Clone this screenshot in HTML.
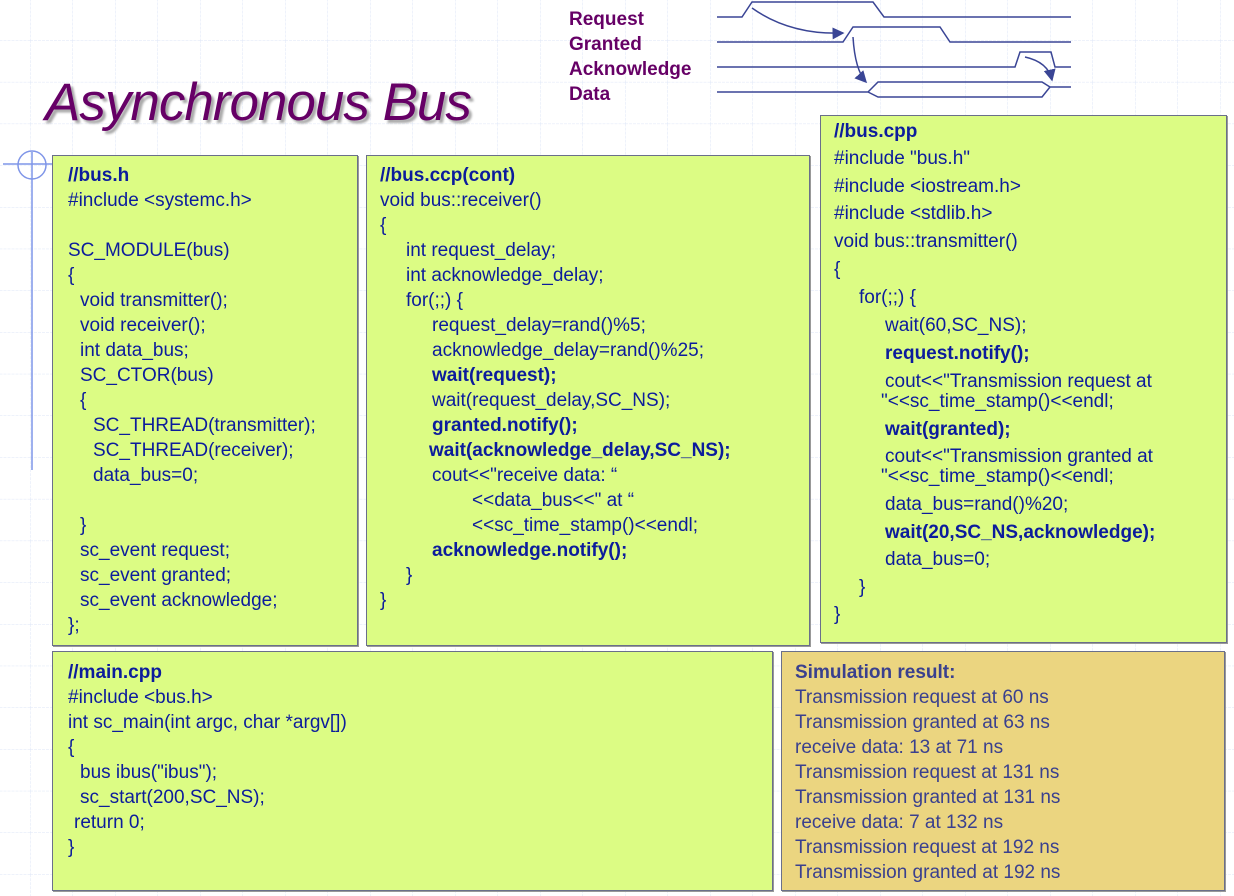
<!DOCTYPE html>
<html><head><meta charset="utf-8"><style>
body{margin:0;width:1234px;height:896px;position:relative;overflow:hidden;background:#fff;font-family:"Liberation Sans",Tahoma,sans-serif;}
.box{position:absolute;background:#dcfc84;border:1px solid #6a6f8a;box-shadow:1px 1px 0 #999;}
.l{position:absolute;font-size:19px;line-height:25px;color:#0c1c9c;white-space:pre;}
.b{font-weight:bold;}
.s{color:#3a408e;}
.lab{position:absolute;font-size:19px;line-height:25px;font-weight:bold;color:#660066;}
</style></head><body>
<svg width="1234" height="896" style="position:absolute;left:0;top:0">
<defs><pattern id="g" width="42.5" height="41.7" patternUnits="userSpaceOnUse" x="30" y="-1.5">
<path d="M0 0V41.7M0 0H42.5" stroke="#dde6f7" stroke-width="1" stroke-dasharray="3 1" fill="none"/></pattern>
<marker id="a" markerWidth="8" markerHeight="8" refX="7" refY="4" orient="auto"><path d="M0 0L8 4L0 8z" fill="#3a4595"/></marker></defs>
<rect width="1234" height="896" fill="url(#g)"/>
<circle cx="32" cy="165" r="14" fill="none" stroke="#7f95e8" stroke-width="1.5"/>
<path d="M3 164H53M32 152V470" stroke="#7f95e8" stroke-width="1.5"/>
<g stroke="#3a4595" stroke-width="1.5" fill="none">
<path d="M717 17H742L752 2H873L884 17H1071"/>
<path d="M717 42H843L853 27H940L950 42H1071"/>
<path d="M717 67H1015L1020 52H1051L1055 67H1071"/>
<path d="M717 92H868L878 82H1042L1050 87H1071M868 92L878 97H1042L1050 87"/>
<path d="M752 8Q790 35 843 33" marker-end="url(#a)"/>
<path d="M853 37Q855 70 866 82" marker-end="url(#a)"/>
<path d="M1025 57Q1048 62 1052 80" marker-end="url(#a)"/>
</g>
</svg>
<div style="position:absolute;left:45px;top:72px;font-size:53px;font-style:italic;color:#660066;text-shadow:3px 3px 2px #aaa;letter-spacing:-1px">Asynchronous Bus</div>
<div class="lab" style="left:569px;top:7px">Request</div>
<div class="lab" style="left:569px;top:32px">Granted</div>
<div class="lab" style="left:569px;top:57px">Acknowledge</div>
<div class="lab" style="left:569px;top:82px">Data</div>

<div class="box" style="left:52px;top:155px;width:304px;height:489px"></div>
<div class="box" style="left:366px;top:155px;width:442px;height:489px"></div>
<div class="box" style="left:820px;top:115px;width:405px;height:526px"></div>
<div class="box" style="left:52px;top:651px;width:719px;height:238px"></div>
<div class="box" style="left:781px;top:651px;width:442px;height:238px;background:#ebd580"></div>

<div class="l b" style="left:68px;top:163px">//bus.h</div>
<div class="l" style="left:68px;top:188px">#include &lt;systemc.h&gt;</div>
<div class="l" style="left:68px;top:238px">SC_MODULE(bus)</div>
<div class="l" style="left:68px;top:263px">{</div>
<div class="l" style="left:80px;top:288px">void transmitter();</div>
<div class="l" style="left:80px;top:313px">void receiver();</div>
<div class="l" style="left:80px;top:338px">int data_bus;</div>
<div class="l" style="left:80px;top:363px">SC_CTOR(bus)</div>
<div class="l" style="left:80px;top:388px">{</div>
<div class="l" style="left:93px;top:413px">SC_THREAD(transmitter);</div>
<div class="l" style="left:93px;top:438px">SC_THREAD(receiver);</div>
<div class="l" style="left:93px;top:463px">data_bus=0;</div>
<div class="l" style="left:80px;top:513px">}</div>
<div class="l" style="left:80px;top:538px">sc_event request;</div>
<div class="l" style="left:80px;top:563px">sc_event granted;</div>
<div class="l" style="left:80px;top:588px">sc_event acknowledge;</div>
<div class="l" style="left:68px;top:613px">};</div>

<div class="l b" style="left:380px;top:163px">//bus.ccp(cont)</div>
<div class="l" style="left:380px;top:188px">void bus::receiver()</div>
<div class="l" style="left:380px;top:213px">{</div>
<div class="l" style="left:406px;top:238px">int request_delay;</div>
<div class="l" style="left:406px;top:263px">int acknowledge_delay;</div>
<div class="l" style="left:406px;top:288px">for(;;) {</div>
<div class="l" style="left:432px;top:313px">request_delay=rand()%5;</div>
<div class="l" style="left:432px;top:338px">acknowledge_delay=rand()%25;</div>
<div class="l b" style="left:432px;top:363px">wait(request);</div>
<div class="l" style="left:432px;top:388px">wait(request_delay,SC_NS);</div>
<div class="l b" style="left:432px;top:413px">granted.notify();</div>
<div class="l b" style="left:429px;top:438px">wait(acknowledge_delay,SC_NS);</div>
<div class="l" style="left:432px;top:463px">cout&lt;&lt;"receive data: “</div>
<div class="l" style="left:472px;top:488px">&lt;&lt;data_bus&lt;&lt;" at “</div>
<div class="l" style="left:472px;top:513px">&lt;&lt;sc_time_stamp()&lt;&lt;endl;</div>
<div class="l b" style="left:432px;top:538px">acknowledge.notify();</div>
<div class="l" style="left:406px;top:563px">}</div>
<div class="l" style="left:380px;top:588px">}</div>

<div class="l b" style="left:834px;top:119px">//bus.cpp</div>
<div class="l" style="left:834px;top:146px">#include "bus.h"</div>
<div class="l" style="left:834px;top:174px">#include &lt;iostream.h&gt;</div>
<div class="l" style="left:834px;top:201px">#include &lt;stdlib.h&gt;</div>
<div class="l" style="left:834px;top:229px">void bus::transmitter()</div>
<div class="l" style="left:834px;top:257px">{</div>
<div class="l" style="left:859px;top:285px">for(;;) {</div>
<div class="l" style="left:885px;top:313px">wait(60,SC_NS);</div>
<div class="l b" style="left:885px;top:341px">request.notify();</div>
<div class="l" style="left:885px;top:369px">cout&lt;&lt;"Transmission request at</div>
<div class="l" style="left:881px;top:389px">"&lt;&lt;sc_time_stamp()&lt;&lt;endl;</div>
<div class="l b" style="left:885px;top:417px">wait(granted);</div>
<div class="l" style="left:885px;top:444px">cout&lt;&lt;"Transmission granted at</div>
<div class="l" style="left:881px;top:464px">"&lt;&lt;sc_time_stamp()&lt;&lt;endl;</div>
<div class="l" style="left:885px;top:492px">data_bus=rand()%20;</div>
<div class="l b" style="left:885px;top:520px">wait(20,SC_NS,acknowledge);</div>
<div class="l" style="left:885px;top:547px">data_bus=0;</div>
<div class="l" style="left:859px;top:575px">}</div>
<div class="l" style="left:834px;top:602px">}</div>

<div class="l b" style="left:68px;top:660px">//main.cpp</div>
<div class="l" style="left:68px;top:685px">#include &lt;bus.h&gt;</div>
<div class="l" style="left:68px;top:710px">int sc_main(int argc, char *argv[])</div>
<div class="l" style="left:68px;top:735px">{</div>
<div class="l" style="left:80px;top:760px">bus ibus("ibus");</div>
<div class="l" style="left:80px;top:785px">sc_start(200,SC_NS);</div>
<div class="l" style="left:74px;top:810px">return 0;</div>
<div class="l" style="left:68px;top:835px">}</div>

<div class="l b s" style="left:795px;top:660px">Simulation result:</div>
<div class="l s" style="left:795px;top:685px">Transmission request at 60 ns</div>
<div class="l s" style="left:795px;top:710px">Transmission granted at 63 ns</div>
<div class="l s" style="left:795px;top:735px">receive data: 13 at 71 ns</div>
<div class="l s" style="left:795px;top:760px">Transmission request at 131 ns</div>
<div class="l s" style="left:795px;top:785px">Transmission granted at 131 ns</div>
<div class="l s" style="left:795px;top:810px">receive data: 7 at 132 ns</div>
<div class="l s" style="left:795px;top:835px">Transmission request at 192 ns</div>
<div class="l s" style="left:795px;top:860px">Transmission granted at 192 ns</div>
</body></html>
